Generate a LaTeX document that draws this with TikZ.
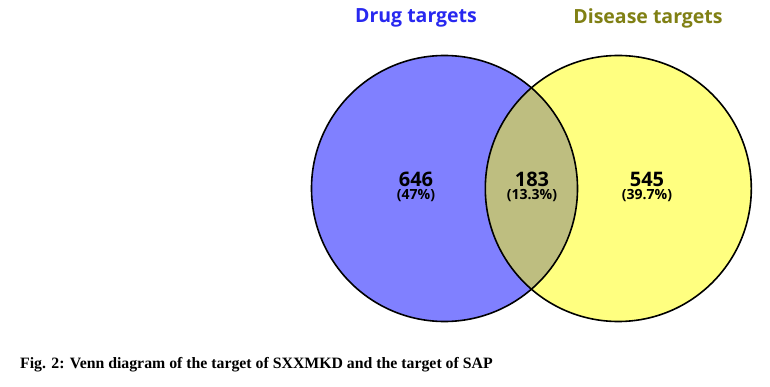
\documentclass[tikz,border=0pt]{standalone}
\usepackage{fontspec}
\setmainfont{Liberation Serif}
\newfontfamily\vennfont{Open Sans}
\definecolor{leftfill}{RGB}{128,128,255}
\definecolor{rightfill}{RGB}{255,255,128}
\definecolor{midfill}{RGB}{190,190,128}
\definecolor{drugcol}{RGB}{40,40,240}
\definecolor{diseasecol}{RGB}{128,128,20}
\tikzset{
  title/.style={font=\vennfont\bfseries\fontsize{19.5}{22}\selectfont, inner sep=0pt},
  count/.style={font=\vennfont\bfseries\fontsize{20}{22}\selectfont, inner sep=0pt},
  pct/.style={font=\vennfont\bfseries\fontsize{14}{15}\selectfont, inner sep=0pt},
  ring/.style={draw=black, line width=1.6pt},
}
\begin{document}
\begin{tikzpicture}[x=1pt,y=-1pt]
\useasboundingbox[fill=white] (0,0) rectangle (770,387);
\coordinate (cl) at (444.5,188.5);
\coordinate (cr) at (618.3,188.5);
\fill[leftfill] (cl) circle (133);
\fill[rightfill] (cr) circle (133);
\begin{scope}
  \clip (cl) circle (133);
  \fill[midfill] (cr) circle (133);
\end{scope}
\draw[ring] (cl) circle (133);
\draw[ring] (cr) circle (133);
\node[title, text=drugcol] (tdrug) at (416,18) {Drug targets};
\node[title, text=diseasecol] (tdis) at (648,18) {Disease targets};
\node[count, anchor=base] (n646) at (416,187) {646};
\node[pct, anchor=base] (p646) at (416,200) {(47\%)};
\node[count, anchor=base] (n183) at (532,187) {183};
\node[pct, anchor=base] (p183) at (532,200) {(13.3\%)};
\node[count, anchor=base] (n545) at (647,187) {545};
\node[pct, anchor=base] (p545) at (647,200) {(39.7\%)};
\node[anchor=west, inner sep=0pt, font=\bfseries\fontsize{15.8}{18}\selectfont] (cap) at (20,365) {Fig. 2: Venn diagram of the target of SXXMKD and the target of SAP};
\end{tikzpicture}
\end{document}
